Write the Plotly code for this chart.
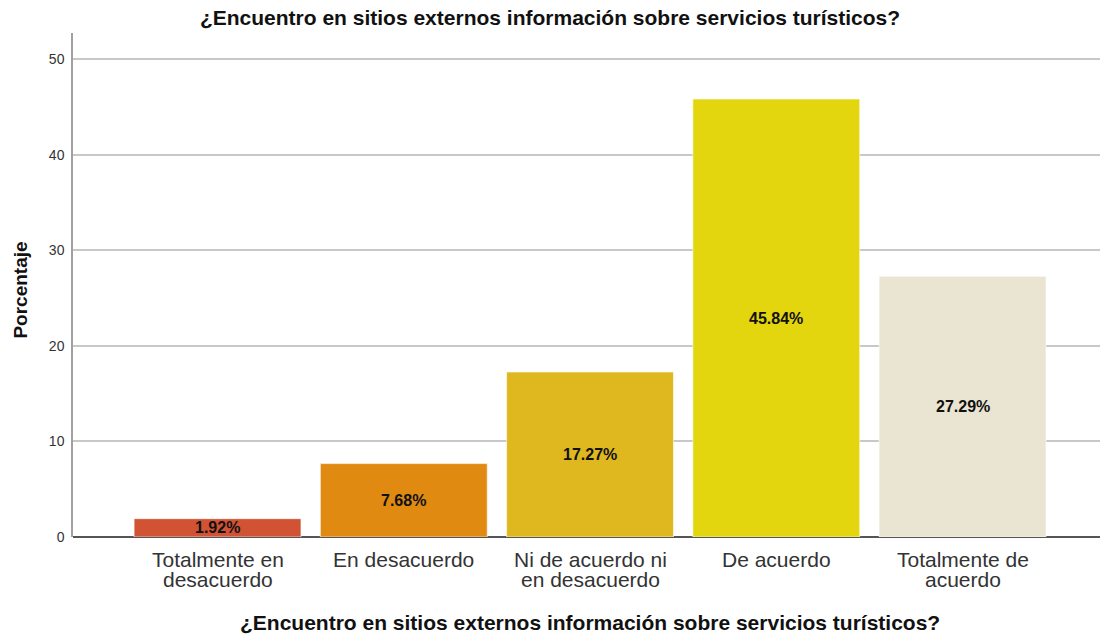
import plotly.graph_objects as go

# Survey responses and their percentages
categories = [
    "Totalmente en<br>desacuerdo",
    "En desacuerdo",
    "Ni de acuerdo ni<br>en desacuerdo",
    "De acuerdo",
    "Totalmente de<br>acuerdo",
]
percentages = [1.92, 7.68, 17.27, 45.84, 27.29]
bar_colors = ["#D15334", "#E08A12", "#DFB81F", "#E3D60E", "#EAE4D2"]
y_ticks = [0, 10, 20, 30, 40, 50]

question = "¿Encuentro en sitios externos información sobre servicios turísticos?"

BASE_FONT = "Liberation Sans, Arial, sans-serif"

fig = go.Figure()
fig.add_trace(go.Bar(
    x=categories,
    y=percentages,
    marker=dict(color=bar_colors, line=dict(color="rgba(255,255,255,0.6)", width=1)),
    hoverinfo="skip",
))

# Value labels centred inside each bar
for cat, val in zip(categories, percentages):
    fig.add_annotation(
        x=cat, y=val / 2, text=f"<b>{val:.2f}%</b>", showarrow=False,
        font=dict(family="Liberation Sans Narrow, Arial Narrow, " + BASE_FONT,
                  size=16, color="#111111"),
        xanchor="center", yanchor="middle",
    )

# Category labels under the axis, one annotation per line for tight spacing
for cat in categories:
    for i, line in enumerate(cat.split("<br>")):
        fig.add_annotation(
            x=cat, y=0, yref="y", text=line, showarrow=False,
            xanchor="center", yanchor="middle", yshift=-22 - 20.5 * i,
            font=dict(family=BASE_FONT, size=21, color="#333333"),
        )

# Axis titles
fig.add_annotation(
    x=0.503, y=-0.1687, xref="paper", yref="paper", text=f"<b>{question}</b>",
    showarrow=False, xanchor="center", yanchor="middle",
    font=dict(family=BASE_FONT, size=21, color="#111111"),
)
fig.add_annotation(
    x=-0.0506, y=0.489, xref="paper", yref="paper", text="<b>Porcentaje</b>",
    showarrow=False, xanchor="center", yanchor="middle", textangle=-90,
    font=dict(family=BASE_FONT, size=19, color="#111111"),
)

fig.update_layout(
    width=1100, height=639,
    margin=dict(l=73, r=0, t=33, b=102),
    paper_bgcolor="white", plot_bgcolor="white",
    bargap=0.104,
    showlegend=False,
    title=dict(
        text=f"<b>{question}</b>", x=0.5, xanchor="center",
        y=1 - 18 / 639, yanchor="middle",
        font=dict(family=BASE_FONT, size=21, color="#111111"),
    ),
    font=dict(family=BASE_FONT, color="#333333"),
)

fig.update_xaxes(
    type="category",
    range=[-0.776, 4.738],
    showgrid=False, showline=False, ticks="",
    showticklabels=False,
)

fig.update_yaxes(
    range=[0, 52.75],
    tickvals=y_ticks,
    showgrid=True, gridcolor="#C8C8C8", gridwidth=1.5,
    showline=True, linecolor="#A0A0A0", linewidth=1.5,
    zeroline=True, zerolinecolor="#555555", zerolinewidth=1.5,
    ticks="", ticklabelstandoff=4,
    tickfont=dict(size=14, color="#333333"),
)

fig.write_html("out.html")
